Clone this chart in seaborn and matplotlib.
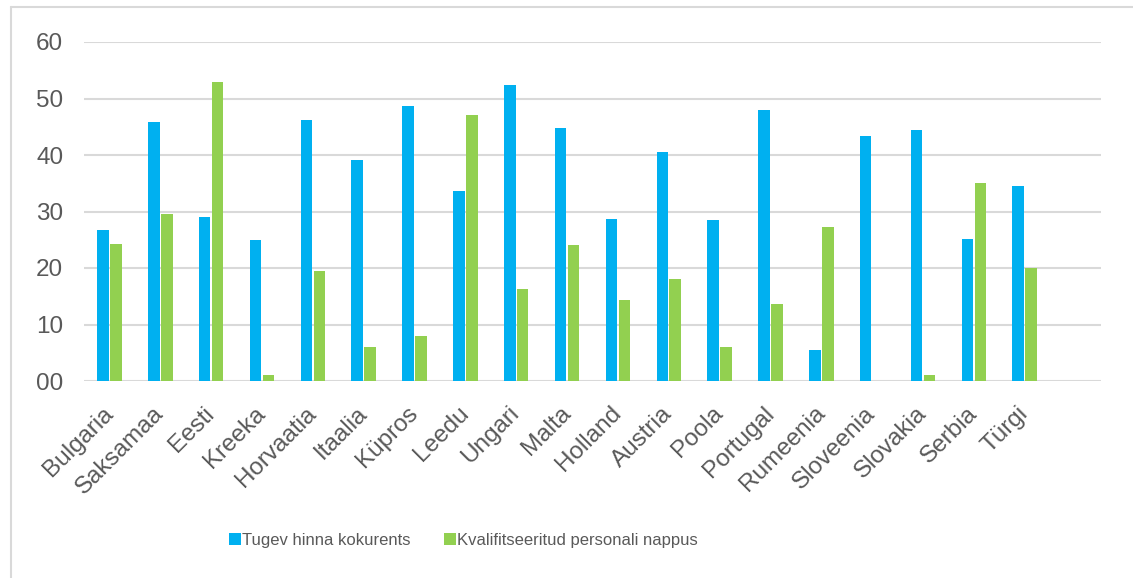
"""
Hinnakonkurents vs kvalifitseeritud personali nappus riigiti
"""
import matplotlib
matplotlib.use("Agg")
import matplotlib.pyplot as plt
import seaborn as sns
import pandas as pd
from matplotlib.lines import Line2D

# andmed (loetud pildilt)
riigid = ["Bulgaria", "Saksamaa", "Eesti", "Kreeka", "Horvaatia", "Itaalia",
          "Küpros", "Leedu", "Ungari", "Malta", "Holland", "Austria", "Poola",
          "Portugal", "Rumeenia", "Sloveenia", "Slovakia", "Serbia", "Türgi"]
hinna_konkurents = [26.8, 45.8, 29.0, 25.0, 46.2, 39.2, 48.6, 33.7, 52.4, 44.8,
                    28.6, 40.6, 28.5, 48.0, 5.4, 43.4, 44.5, 25.1, 34.5]
personali_nappus = [24.3, 29.6, 53.0, 1.1, 19.4, 6.0, 7.9, 47.1, 16.2, 24.0,
                    14.4, 18.0, 6.1, 13.6, 27.3, 0.0, 1.0, 35.0, 20.0]
seeriad = ["Tugev hinna kokurents", "Kvalifitseeritud personali nappus"]
varvid = ["#00B0F0", "#92D050"]
y_ticks = [0, 10, 20, 30, 40, 50, 60]

df = pd.DataFrame({
    "riik": riigid * 2,
    "vaartus": hinna_konkurents + personali_nappus,
    "seeria": [seeriad[0]] * len(riigid) + [seeriad[1]] * len(riigid),
})

sns.set_style("white")
plt.rcParams["font.family"] = ["Liberation Sans", "DejaVu Sans"]

fig = plt.figure(figsize=(11.33, 5.78), dpi=100)
ax = fig.add_axes([84 / 1133, 1 - 381 / 578, (1101 - 84) / 1133, (381 - 42) / 578])

sns.barplot(data=df, x="riik", y="vaartus", hue="seeria", order=riigid,
            hue_order=seeriad, palette=varvid, saturation=1, width=0.51, gap=0.11,
            linewidth=0, ax=ax, legend=False, zorder=3)

# üks tühi koht paremal nagu originaalis
ax.set_xlim(-0.5, 19.5)
ax.set_ylim(0, 60)
ax.set_yticks(y_ticks)
ax.set_yticklabels([f"{t:02d}" for t in y_ticks])
ax.yaxis.grid(True, color="#D9D9D9", linewidth=1.5, zorder=0)
ax.xaxis.grid(False)
ax.set_xlabel("")
ax.set_ylabel("")
for s in ax.spines.values():
    s.set_visible(False)

ax.tick_params(axis="y", length=0, pad=15, labelsize=17.5, labelcolor="#595959")
ax.tick_params(axis="x", length=0, pad=21, labelsize=17.5, labelcolor="#595959")
for lbl in ax.get_xticklabels():
    lbl.set_rotation(45)
    lbl.set_ha("right")
    lbl.set_va("center")
    lbl.set_rotation_mode("anchor")

# legend
kasid = [Line2D([], [], marker="s", linestyle="none", markersize=8,
                markerfacecolor=c, markeredgewidth=0) for c in varvid]
fig.legend(kasid, seeriad, loc="center", bbox_to_anchor=(464 / 1133, 1 - 540 / 578),
           ncol=2, frameon=False, fontsize=12, labelcolor="#595959",
           handlelength=0.6, handletextpad=0.15, columnspacing=2.05)

# diagrammi ala raam
fig.add_artist(Line2D([11 / 1133, 11 / 1133], [0, 1 - 7 / 578], color="#D9D9D9",
                      linewidth=1.5, transform=fig.transFigure))
fig.add_artist(Line2D([11 / 1133, 1], [1 - 7 / 578, 1 - 7 / 578], color="#D9D9D9",
                      linewidth=1.5, transform=fig.transFigure))

fig.savefig("out.png", dpi=100)
plt.close(fig)
